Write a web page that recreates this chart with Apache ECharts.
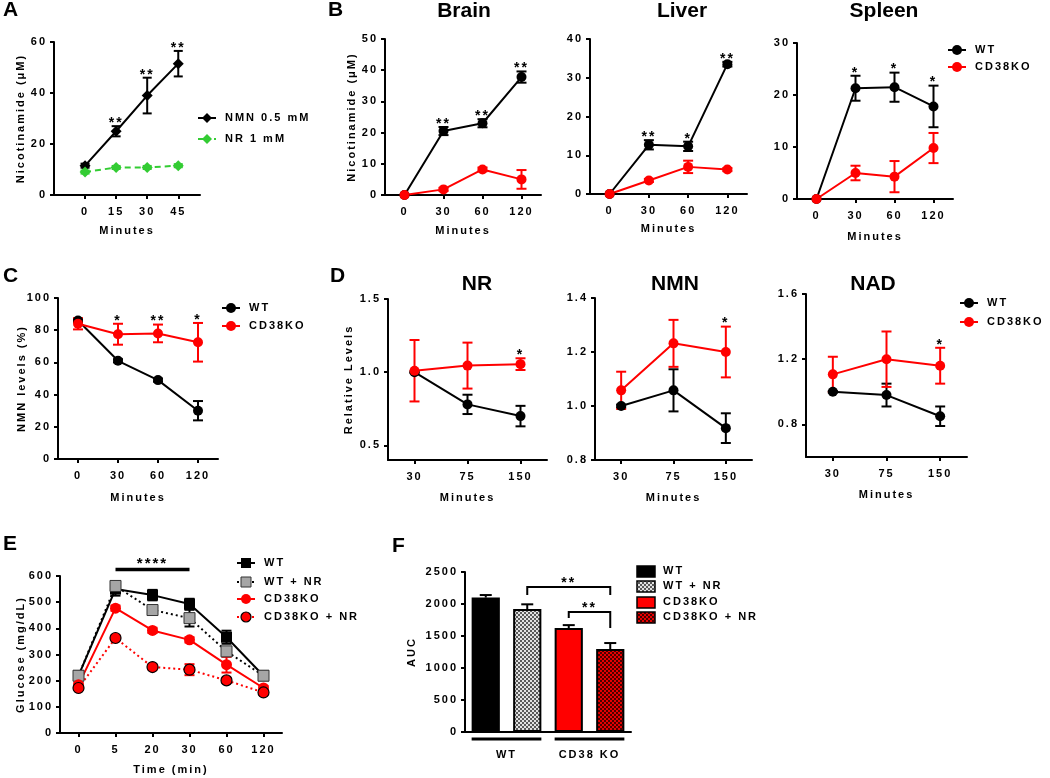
<!DOCTYPE html>
<html><head><meta charset="utf-8">
<script src="https://cdn.jsdelivr.net/npm/echarts@6/dist/echarts.min.js"></script>
<style>html,body{margin:0;padding:0;background:#fff}#main{width:1050px;height:778px}</style>
</head><body><div id="main"></div>
<script>
// ---------------- DATA ----------------
// Panel A
const aMinutes = [0, 15, 30, 45];
const aTicks = [0, 15, 30, 45];
const aNMN = [11.5, 25, 39, 51.5];
const aNMNErr = [0.8, 2, 7, 5];
const aNR = [9, 10.8, 10.8, 11.5];
const aNRErr = [0.6, 0.6, 0.6, 0.6];
const aStars = ['', '**', '**', '**'];
// Panel B
const bMinutes = ['0', '30', '60', '120'];
const brainWT = [0, 20.5, 23, 37.8];
const brainWTErr = [0, 1.3, 1.3, 1.8];
const brainKO = [0, 1.8, 8.2, 5];
const brainKOErr = [0, 0.5, 0.6, 3];
const brainStars = ['', '**', '**', '**'];
const liverWT = [0, 12.7, 12.3, 33.5];
const liverWTErr = [0, 1.2, 1.2, 0.6];
const liverKO = [0, 3.5, 7, 6.3];
const liverKOErr = [0, 0.4, 1.6, 0.4];
const liverStars = ['', '**', '*', '**'];
const spleenWT = [0, 21.3, 21.5, 17.8];
const spleenWTErr = [0, 2.4, 2.8, 4];
const spleenKO = [0, 5, 4.3, 9.8];
const spleenKOErr = [0, 1.4, 3, 2.9];
const spleenStars = ['', '*', '*', '*'];
// Panel C
const cMinutes = ['0', '30', '60', '120'];
const cWT = [86, 61, 49, 30];
const cWTErr = [1, 1, 1, 6];
const cKO = [84, 77.5, 78, 72.5];
const cKOErr = [3.5, 6.5, 5.5, 12];
const cStars = ['', '*', '**', '*'];
// Panel D
const dMinutes = ['30', '75', '150'];
const nrWT = [1.0, 0.78, 0.70];
const nrWTErr = [0.005, 0.066, 0.07];
const nrKO = [1.01, 1.045, 1.055];
const nrKOErr = [0.21, 0.157, 0.04];
const nrStars = ['', '', '*'];
const nmnWT = [1.0, 1.058, 0.918];
const nmnWTErr = [0.005, 0.078, 0.055];
const nmnKO = [1.058, 1.232, 1.2];
const nmnKOErr = [0.069, 0.087, 0.094];
const nmnStars = ['', '', '*'];
const nadWT = [1.0, 0.98, 0.85];
const nadWTErr = [0.005, 0.07, 0.06];
const nadKO = [1.107, 1.2, 1.16];
const nadKOErr = [0.108, 0.17, 0.11];
const nadStars = ['', '', '*'];
// Panel E
const eTimes = ['0', '5', '20', '30', '60', '120'];
const eWT = [219, 550, 527, 493, 366, 219];
const eWTErr = [5, 25, 20, 20, 25, 8];
const eWTNR = [219, 562, 470, 439, 312, 219];
const eWTNRErr = [8, 15, 15, 32, 10, 8];
const eKO = [184, 477, 392, 356, 261, 172];
const eKOErr = [8, 10, 10, 10, 30, 8];
const eKONR = [172, 363, 252, 242, 201, 155];
const eKONRErr = [8, 10, 10, 21, 10, 8];
const eSigFrom = [1], eSigTo = [3], eSigLevel = [625], eSigLabel = ['****'];
// Panel F
const fGroups = ['WT', 'WT + NR', 'CD38KO', 'CD38KO + NR'];
const fAUC = [2100, 1920, 1625, 1295];
const fAUCErr = [40, 75, 45, 95];
const fBrFrom = [1, 2], fBrTo = [3, 3];
const fBrLevel = [2265, 1875], fBrLeftEnd = [2140, 1780], fBrRightEnd = [2140, 1625];
const fBrLabel = ['**', '**'];
const fGroupNames = ['WT', 'CD38 KO'], fGroupStart = [0, 2], fGroupEnd = [1, 3];

// ---------------- STYLE / HELPERS ----------------
const FF = '"Liberation Sans", Arial, Helvetica, sans-serif';
const RED = '#ff0000', GREEN = '#33cc33';

function pattern(c1, c2) {
  const cv = document.createElement('canvas'); cv.width = cv.height = 4;
  const g = cv.getContext('2d');
  g.fillStyle = c1; g.fillRect(0, 0, 4, 4);
  g.fillStyle = c2; g.fillRect(0, 0, 2, 2); g.fillRect(2, 2, 2, 2);
  return { image: cv, repeat: 'repeat' };
}
const GRAYPAT = pattern('#e2e2e2', '#5a5a5a');
const REDPAT = pattern('#e80000', '#4a0000');

const nameStyle = { color: '#000', fontSize: 11, fontWeight: 'bold', fontFamily: FF };
const plain = v => String(v);
function yAx(gi, min, max, interval, name, nameGap, opts) {
  opts = opts || {};
  const a = { type: 'value', gridIndex: gi, min: min, max: max,
    axisLine: { show: true, onZero: false, lineStyle: { color: '#000', width: 2 } },
    axisTick: { show: true, length: 4, lineStyle: { color: '#000', width: 2 } },
    splitLine: { show: false },
    axisLabel: { color: '#000', fontSize: 11, fontWeight: 'bold', fontFamily: FF, margin: 7, showMinLabel: true, showMaxLabel: true, formatter: plain },
    name: name || '', nameLocation: 'middle', nameGap: nameGap || 30, nameRotate: 90, nameMoveOverlap: false,
    nameTextStyle: nameStyle };
  if (interval) a.interval = interval;
  if (opts.custom) { a.axisLabel.customValues = opts.custom; a.axisTick.customValues = opts.custom; }
  if (opts.fmt) a.axisLabel.formatter = opts.fmt;
  return a;
}
function xCat(gi, cats, name, nameGap, opts) {
  opts = opts || {};
  return { type: 'category', gridIndex: gi, data: cats, boundaryGap: true,
    axisLine: { show: true, onZero: false, lineStyle: { color: '#000', width: 2 } },
    axisTick: { show: !opts.noTick, alignWithLabel: true, length: 4, lineStyle: { color: '#000', width: 2 } },
    axisLabel: { show: !opts.noLabel, color: '#000', fontSize: 11, fontWeight: 'bold', fontFamily: FF, margin: 11, interval: 0 },
    splitLine: { show: false },
    name: name || '', nameLocation: 'middle', nameGap: nameGap || 28, nameMoveOverlap: false, nameTextStyle: nameStyle };
}
function idx(arr) { return arr.map((_, i) => i); }
function lineS(gi, name, xs, ys, color, opts) {
  opts = opts || {};
  return { type: 'line', name: name, xAxisIndex: gi, yAxisIndex: gi, z: opts.z || 4,
    data: ys.map((v, i) => [xs[i], v]),
    symbol: opts.symbol || 'circle', symbolSize: opts.size || 10, showSymbol: true,
    itemStyle: Object.assign({ color: color }, opts.item || {}),
    lineStyle: Object.assign({ color: color, width: 2 }, opts.line || {}),
    emphasis: { disabled: true }, animation: false };
}
function errS(gi, xs, ys, es, color, cap, upOnly, z) {
  return { type: 'custom', xAxisIndex: gi, yAxisIndex: gi, z: z || 3, clip: false, silent: true,
    data: ys.map((v, i) => [xs[i], v, es[i]]),
    encode: { x: 0, y: 1 },
    renderItem: function (p, api) {
      const x = api.value(0), y = api.value(1), e = api.value(2);
      if (!e) return;
      const top = api.coord([x, y + e]);
      const bot = api.coord([x, upOnly ? y : y - e]);
      const w = cap / 2;
      const st = { stroke: color, lineWidth: 2 };
      const ch = [
        { type: 'line', shape: { x1: top[0], y1: top[1], x2: bot[0], y2: bot[1] }, style: st },
        { type: 'line', shape: { x1: top[0] - w, y1: top[1], x2: top[0] + w, y2: top[1] }, style: st }
      ];
      if (!upOnly) ch.push({ type: 'line', shape: { x1: bot[0] - w, y1: bot[1], x2: bot[0] + w, y2: bot[1] }, style: st });
      return { type: 'group', children: ch };
    } };
}
function starS(gi, xs, tops, labels, size) {
  return { type: 'custom', xAxisIndex: gi, yAxisIndex: gi, z: 6, clip: false, silent: true,
    data: tops.map((v, i) => [xs[i], v]),
    encode: { x: 0, y: 1 },
    renderItem: function (p, api) {
      const s = labels[p.dataIndex];
      if (!s) return;
      const c = api.coord([api.value(0), api.value(1)]);
      return { type: 'text', x: c[0], y: c[1] - 3,
        style: { text: s, fill: '#000', font: 'bold ' + (size || 14) + 'px ' + FF, align: 'center', verticalAlign: 'middle' } };
    } };
}
function add(a, b) { return a.map((v, i) => v + b[i]); }

function panelB(gi, wt, wtErr, ko, koErr, stars) {
  const xs = idx(wt);
  const tops = wt.map((v, i) => Math.max(v + wtErr[i], ko[i] + koErr[i]));
  return [
    errS(gi, xs, wt, wtErr, '#000', 10),
    errS(gi, xs, ko, koErr, RED, 10),
    lineS(gi, 'WT', xs, wt, '#000'),
    lineS(gi, 'CD38KO', xs, ko, RED),
    starS(gi, xs, tops, stars)
  ];
}

// ---------------- LEGENDS / TEXT ----------------
function legendItem(x, y, o) {
  const els = [];
  const len = o.len || 18;
  const cx = x + len / 2;
  if (o.line) els.push({ type: 'line', shape: { x1: x, y1: y, x2: x + len, y2: y }, style: { stroke: o.line, lineWidth: 2, lineDash: o.dash || null } });
  const sst = { fill: o.fill, stroke: o.stroke || null, lineWidth: o.sw || 0 };
  const r = o.r || 5;
  if (o.sym === 'circle') els.push({ type: 'circle', shape: { cx: cx, cy: y, r: r }, style: sst });
  if (o.sym === 'diamond') els.push({ type: 'polygon', shape: { points: [[cx, y - r], [cx + r, y], [cx, y + r], [cx - r, y]] }, style: sst });
  if (o.sym === 'rect') els.push({ type: 'rect', shape: { x: cx - r, y: y - r, width: 2 * r, height: 2 * r }, style: sst });
  if (o.sym === 'box') els.push({ type: 'rect', shape: { x: x, y: y - 5, width: 18, height: 11 }, style: { fill: o.fill, stroke: '#000', lineWidth: 1.5 } });
  els.push({ type: 'text', x: x + (o.tx || 27), y: y, style: { text: o.text, fill: '#000', font: 'bold 11px ' + FF, verticalAlign: 'middle' } });
  return els;
}
function bigText(x, y, text, align) {
  return { type: 'text', zlevel: 1, x: x, y: y, style: { text: text, fill: '#000', font: 'bold 21px ' + FF, align: align || 'center', verticalAlign: 'middle' } };
}

let graphics = [];
graphics = graphics.concat(
  legendItem(198, 118, { line: '#000', sym: 'diamond', fill: '#000', text: 'NMN 0.5 mM', r: 5 }),
  legendItem(198, 139, { line: GREEN, dash: [5, 3], sym: 'diamond', fill: GREEN, text: 'NR 1 mM', r: 5 }),
  legendItem(948, 50, { line: '#000', sym: 'circle', fill: '#000', text: 'WT' }),
  legendItem(948, 67, { line: RED, sym: 'circle', fill: RED, text: 'CD38KO' }),
  legendItem(222, 308, { line: '#000', sym: 'circle', fill: '#000', text: 'WT' }),
  legendItem(222, 326, { line: RED, sym: 'circle', fill: RED, text: 'CD38KO' }),
  legendItem(960, 303, { line: '#000', sym: 'circle', fill: '#000', text: 'WT' }),
  legendItem(960, 322, { line: RED, sym: 'circle', fill: RED, text: 'CD38KO' }),
  legendItem(237, 563, { line: '#000', sym: 'rect', fill: '#000', text: 'WT' }),
  legendItem(237, 582, { line: '#000', dash: [2, 3], sym: 'rect', fill: '#a6a6a6', stroke: '#333', sw: 1, text: 'WT + NR' }),
  legendItem(237, 599, { line: RED, sym: 'circle', fill: RED, text: 'CD38KO' }),
  legendItem(237, 617, { line: RED, dash: [2, 3], sym: 'circle', fill: RED, stroke: '#000', sw: 1.2, text: 'CD38KO + NR' }),
  legendItem(637, 571, { sym: 'box', fill: '#000', text: fGroups[0], tx: 26 }),
  legendItem(637, 586, { sym: 'box', fill: GRAYPAT, text: fGroups[1], tx: 26 }),
  legendItem(637, 602, { sym: 'box', fill: RED, text: fGroups[2], tx: 26 }),
  legendItem(637, 617, { sym: 'box', fill: REDPAT, text: fGroups[3], tx: 26 })
);
graphics.push(
  bigText(3, 10, 'A', 'left'), bigText(328, 10, 'B', 'left'), bigText(3, 276, 'C', 'left'),
  bigText(330, 276, 'D', 'left'), bigText(3, 544, 'E', 'left'), bigText(392, 546, 'F', 'left'),
  bigText(464, 11, 'Brain'), bigText(682, 11, 'Liver'), bigText(884, 11, 'Spleen'),
  bigText(477, 284, 'NR'), bigText(675, 284, 'NMN'), bigText(873, 284, 'NAD')
);

// ---------------- OPTION ----------------
const grids = [
  { left: 54, top: 42, width: 146, height: 153 },   // 0 A
  { left: 385, top: 39, width: 156, height: 156 },  // 1 Brain
  { left: 590, top: 39, width: 157, height: 155 },  // 2 Liver
  { left: 797, top: 43, width: 156, height: 156 },  // 3 Spleen
  { left: 58, top: 298, width: 160, height: 161 },  // 4 C
  { left: 388, top: 299, width: 159, height: 161 }, // 5 NR
  { left: 595, top: 298, width: 157, height: 162 }, // 6 NMN
  { left: 806, top: 294, width: 161, height: 163 }, // 7 NAD
  { left: 60, top: 576, width: 222, height: 157 },  // 8 E
  { left: 465, top: 572, width: 166, height: 160 }  // 9 F
].map(g => Object.assign({ outerBoundsMode: 'none', containLabel: false }, g));

const f1 = v => v.toFixed(1);
const xAxes = [
  { type: 'value', gridIndex: 0, min: -15, max: 55.5, interval: 15,
    axisLine: { show: true, onZero: false, lineStyle: { color: '#000', width: 2 } },
    axisTick: { show: true, length: 4, lineStyle: { color: '#000', width: 2 }, customValues: aTicks },
    axisLabel: { color: '#000', fontSize: 11, fontWeight: 'bold', fontFamily: FF, margin: 11, customValues: aTicks,
      formatter: v => (aTicks.indexOf(v) >= 0 ? String(v) : '') },
    splitLine: { show: false },
    name: 'Minutes', nameLocation: 'middle', nameGap: 30, nameMoveOverlap: false, nameTextStyle: nameStyle },
  xCat(1, bMinutes, 'Minutes', 30),
  xCat(2, bMinutes, 'Minutes', 29),
  xCat(3, bMinutes, 'Minutes', 32),
  xCat(4, cMinutes, 'Minutes', 33),
  xCat(5, dMinutes, 'Minutes', 32),
  xCat(6, dMinutes, 'Minutes', 32),
  xCat(7, dMinutes, 'Minutes', 32),
  xCat(8, eTimes, 'Time (min)', 31),
  xCat(9, fGroups, '', 20, { noTick: true, noLabel: true })
];
const yAxes = [
  yAx(0, 0, 60, 20, 'Nicotinamide (μM)', 28),
  yAx(1, 0, 50, 10, 'Nicotinamide (μM)', 28),
  yAx(2, 0, 40, 10, ''),
  yAx(3, 0, 30, 10, ''),
  yAx(4, 0, 100, 20, 'NMN levels (%)', 31),
  yAx(5, 0.4, 1.5, 0.1, 'Relative Levels', 34, { custom: [0.5, 1.0, 1.5], fmt: f1 }),
  yAx(6, 0.8, 1.4, 0.2, '', 30, { fmt: f1 }),
  yAx(7, 0.6, 1.6, 0.2, '', 30, { custom: [0.8, 1.2, 1.6], fmt: f1 }),
  yAx(8, 0, 600, 100, 'Glucose (mg/dL)', 34),
  yAx(9, 0, 2500, 500, 'AUC', 48)
];

let series = [];
// A
series.push(
  errS(0, aMinutes, aNMN, aNMNErr, '#000', 9),
  errS(0, aMinutes, aNR, aNRErr, GREEN, 9),
  lineS(0, 'NMN 0.5 mM', aMinutes, aNMN, '#000', { symbol: 'diamond', size: 11 }),
  lineS(0, 'NR 1 mM', aMinutes, aNR, GREEN, { symbol: 'diamond', size: 11, line: { type: [6, 4] } }),
  starS(0, aMinutes, add(aNMN, aNMNErr), aStars)
);
// B, C, D
series = series.concat(
  panelB(1, brainWT, brainWTErr, brainKO, brainKOErr, brainStars),
  panelB(2, liverWT, liverWTErr, liverKO, liverKOErr, liverStars),
  panelB(3, spleenWT, spleenWTErr, spleenKO, spleenKOErr, spleenStars),
  panelB(4, cWT, cWTErr, cKO, cKOErr, cStars),
  panelB(5, nrWT, nrWTErr, nrKO, nrKOErr, nrStars),
  panelB(6, nmnWT, nmnWTErr, nmnKO, nmnKOErr, nmnStars),
  panelB(7, nadWT, nadWTErr, nadKO, nadKOErr, nadStars)
);
// E
const eX = idx(eTimes);
series.push(
  errS(8, eX, eWT, eWTErr, '#000', 10),
  lineS(8, 'WT', eX, eWT, '#000', { symbol: 'rect', size: 11 }),
  errS(8, eX, eWTNR, eWTNRErr, '#000', 10),
  lineS(8, 'WT + NR', eX, eWTNR, '#a6a6a6', { symbol: 'rect', size: 11, item: { borderColor: '#333', borderWidth: 1 }, line: { color: '#000', type: [2, 3] } }),
  errS(8, eX, eKO, eKOErr, RED, 10),
  lineS(8, 'CD38KO', eX, eKO, RED, { size: 11 }),
  errS(8, eX, eKONR, eKONRErr, RED, 10),
  lineS(8, 'CD38KO + NR', eX, eKONR, RED, { size: 11, item: { borderColor: '#000', borderWidth: 1.2 }, line: { type: [2, 3] } }),
  { type: 'custom', xAxisIndex: 8, yAxisIndex: 8, clip: false, silent: true, z: 6,
    data: eSigLevel.map((v, i) => [eSigFrom[i], v]), encode: { x: 0, y: 1 },
    renderItem: function (p, api) {
      const i = p.dataIndex;
      const a = api.coord([eSigFrom[i], eSigLevel[i]]), b = api.coord([eSigTo[i], eSigLevel[i]]);
      return { type: 'group', children: [
        { type: 'line', shape: { x1: a[0], y1: a[1], x2: b[0], y2: b[1] }, style: { stroke: '#000', lineWidth: 3.5 } },
        { type: 'text', x: (a[0] + b[0]) / 2, y: a[1] - 6, style: { text: eSigLabel[i], fill: '#000', font: 'bold 15px ' + FF, align: 'center', verticalAlign: 'middle' } }
      ] };
    } }
);
// F
series.push(
  { type: 'bar', xAxisIndex: 9, yAxisIndex: 9, barWidth: '68%', z: 2, animation: false,
    data: fAUC.map((v, i) => ({ value: v, itemStyle: { color: [ '#000', GRAYPAT, RED, REDPAT ][i], borderColor: '#000', borderWidth: 2 } })),
    emphasis: { disabled: true } },
  errS(9, idx(fAUC), fAUC, fAUCErr, '#000', 12, true, 1),
  { type: 'custom', xAxisIndex: 9, yAxisIndex: 9, clip: false, silent: true, z: 6,
    data: fBrLevel.map((v, i) => [fBrFrom[i], v]), encode: { x: 0, y: 1 },
    renderItem: function (p, api) {
      const i = p.dataIndex;
      const a = api.coord([fBrFrom[i], fBrLevel[i]]), b = api.coord([fBrTo[i], fBrLevel[i]]);
      const al = api.coord([fBrFrom[i], fBrLeftEnd[i]]), bl = api.coord([fBrTo[i], fBrRightEnd[i]]);
      const st = { stroke: '#000', lineWidth: 2, fill: null };
      return { type: 'group', children: [
        { type: 'polyline', shape: { points: [[al[0], al[1]], [a[0], a[1]], [b[0], b[1]], [bl[0], bl[1]]] }, style: st },
        { type: 'text', x: (a[0] + b[0]) / 2, y: a[1] - 4, style: { text: fBrLabel[i], fill: '#000', font: 'bold 14px ' + FF, align: 'center', verticalAlign: 'middle' } }
      ] };
    } },
  { type: 'custom', xAxisIndex: 9, yAxisIndex: 9, clip: false, silent: true, z: 6,
    data: fGroupNames.map((n, i) => [fGroupStart[i], 0]), encode: { x: 0, y: 1 },
    renderItem: function (p, api) {
      const i = p.dataIndex;
      const bw = api.size([1, 0])[0] * 0.68;
      const a = api.coord([fGroupStart[i], 0]), b = api.coord([fGroupEnd[i], 0]);
      const x0 = a[0] - bw / 2, x1 = b[0] + bw / 2;
      return { type: 'group', children: [
        { type: 'line', shape: { x1: x0, y1: a[1] + 7, x2: x1, y2: a[1] + 7 }, style: { stroke: '#000', lineWidth: 3 } },
        { type: 'text', x: (x0 + x1) / 2, y: a[1] + 23, style: { text: fGroupNames[i], fill: '#000', font: 'bold 11px ' + FF, align: 'center', verticalAlign: 'middle' } }
      ] };
    } }
);

const option = {
  animation: false,
  backgroundColor: '#fff',
  textStyle: { fontFamily: FF },
  grid: grids, xAxis: xAxes, yAxis: yAxes, series: series,
  graphic: { elements: graphics }
};

const chart = echarts.init(document.getElementById('main'), null, { renderer: 'canvas', width: 1050, height: 778 });
chart.setOption(option);
function spacing() {
  try {
    const painter = chart.getZr().painter;
    const layer = painter.getLayer(0);
    if (layer && layer.ctx && ('letterSpacing' in layer.ctx)) {
      layer.ctx.letterSpacing = '2px';
      painter.refresh(true);
    }
  } catch (e) {}
}
spacing();
requestAnimationFrame(spacing);
</script></body></html>
